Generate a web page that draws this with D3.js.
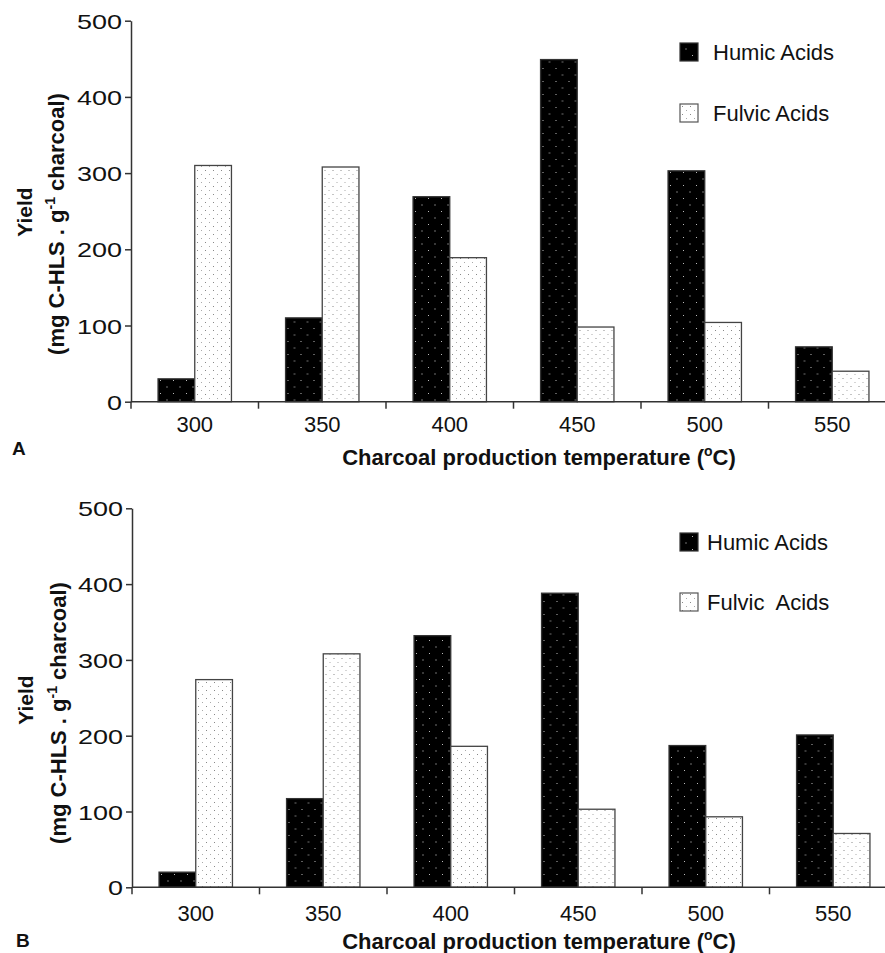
<!DOCTYPE html>
<html><head><meta charset="utf-8">
<script src="https://cdn.jsdelivr.net/npm/d3@7"></script>
<style>body{margin:0;background:#fff}svg{display:block;font-family:"Liberation Sans",Arial,sans-serif}</style>
</head><body>
<svg id="c" width="885" height="953"></svg>
<script>
const categories = ["300","350","400","450","500","550"];
const seriesNames = ["Humic Acids","Fulvic Acids"];
const seriesNamesB = ["Humic Acids","Fulvic  Acids"];
const humicA = [30,110,269,449,303,72];
const fulvicA = [310,308,189,98,104,40];
const humicB = [20,117,332,388,187,201];
const fulvicB = [274,308,186,103,93,71];
const yTicks = [0,100,200,300,400,500];

const svg = d3.select("#c");
const defs = svg.append("defs");
const ph = defs.append("pattern").attr("id","phum").attr("patternUnits","userSpaceOnUse").attr("width",13).attr("height",13);
ph.append("rect").attr("width",13).attr("height",13).attr("fill","#000");
ph.append("rect").attr("x",3).attr("y",3).attr("width",1).attr("height",1).attr("fill","#bbb");
ph.append("rect").attr("x",9.5).attr("y",9.5).attr("width",1).attr("height",1).attr("fill","#ddd");
const pf = defs.append("pattern").attr("id","pful").attr("patternUnits","userSpaceOnUse").attr("width",8).attr("height",8);
pf.append("rect").attr("width",8).attr("height",8).attr("fill","#fff");
pf.append("rect").attr("x",2).attr("y",2).attr("width",1).attr("height",1).attr("fill","#888");
pf.append("rect").attr("x",6).attr("y",6).attr("width",1).attr("height",1).attr("fill","#aaa");

function panel(cfg){
  const g = svg.append("g");
  const x0 = d3.scaleBand().domain(categories).range([cfg.left, cfg.left + 127.5*6]).padding(0);
  const x1 = d3.scaleBand().domain(["h","f"]).range([0, x0.bandwidth()]).paddingInner(0).paddingOuter(0.737);
  const y = d3.scaleLinear().domain([0,500]).range([cfg.bottom, cfg.top]);

  const fills = {h:"url(#phum)", f:"url(#pful)"};
  const strokes = {h:"#333", f:"#444"};
  const rows = categories.map((c,i)=>({c, h:cfg.humic[i], f:cfg.fulvic[i]}));
  const cg = g.selectAll("g.cat").data(rows).join("g").attr("transform",d=>`translate(${x0(d.c)},0)`);
  cg.selectAll("rect").data(d=>["h","f"].map(k=>({k,v:d[k]}))).join("rect")
    .attr("x",d=>x1(d.k)).attr("width",x1.bandwidth())
    .attr("y",d=>y(d.v)).attr("height",d=>y(0)-y(d.v))
    .attr("fill",d=>fills[d.k]).attr("stroke",d=>strokes[d.k]).attr("stroke-width",1.3);

  const ya = g.append("g").attr("transform",`translate(${cfg.left},0)`)
    .call(d3.axisLeft(y).tickValues(yTicks).tickSize(6).tickSizeOuter(0).tickPadding(3));
  ya.select(".domain").attr("stroke","#333").attr("stroke-width",1.5);
  ya.selectAll(".tick line").attr("stroke","#333").attr("stroke-width",1.5);
  ya.selectAll(".tick text").attr("font-size",21).attr("fill","#111").attr("font-family","'Liberation Sans',Arial,sans-serif")
    .attr("textLength",d=>15*String(d).length).attr("lengthAdjust","spacingAndGlyphs").attr("dy","0.36em");

  const xa = g.append("g").attr("transform",`translate(0,${cfg.bottom})`);
  xa.append("line").attr("x1",cfg.left).attr("x2",885).attr("y1",0).attr("y2",0).attr("stroke","#333").attr("stroke-width",1.5);
  xa.selectAll("line.t").data(categories).join("line").attr("class","t")
    .attr("x1",d=>x0(d)).attr("x2",d=>x0(d)).attr("y1",0).attr("y2",7).attr("stroke","#333").attr("stroke-width",1.5);
  xa.selectAll("text.t").data(categories).join("text").attr("class","t")
    .attr("x",d=>x0(d)+x0.bandwidth()/2).attr("y",cfg.tickLabY-cfg.bottom)
    .attr("text-anchor","middle").attr("font-size",22).attr("fill","#111").text(d=>d);

  const xt = g.append("text").attr("x",539).attr("y",cfg.xTitleY).attr("text-anchor","middle")
    .attr("font-size",22).attr("font-weight","bold").attr("fill","#111");
  xt.append("tspan").text("Charcoal production temperature (");
  xt.append("tspan").attr("font-size",14).attr("dy",-9).text("o");
  xt.append("tspan").attr("dy",9).text("C)");

  g.append("text").attr("transform",`translate(${cfg.yl1x},${cfg.yl1y}) rotate(-90)`).attr("text-anchor","middle")
    .attr("font-size",21).attr("font-weight","bold").attr("fill","#111").text("Yield");
  const yt = g.append("text").attr("transform",`translate(${cfg.yl2x},${cfg.yl2y}) rotate(-90)`).attr("text-anchor","middle")
    .attr("font-size",22).attr("font-weight","bold").attr("fill","#111");
  yt.append("tspan").text("(mg C-HLS . g");
  yt.append("tspan").attr("font-size",14).attr("dy",-9).text("-1");
  yt.append("tspan").attr("dy",9).text(" charcoal)");

  g.append("text").attr("x",cfg.labX).attr("y",cfg.labY).attr("font-size",19).attr("font-weight","bold").attr("fill","#111").text(cfg.label);

  const lg = g.append("g");
  cfg.legY.forEach((ly,i)=>{
    lg.append("rect").attr("x",680).attr("y",ly).attr("width",18).attr("height",18)
      .attr("fill",i===0?"url(#phum)":"url(#pful)").attr("stroke",i===0?"#333":"#555").attr("stroke-width",1.2);
    lg.append("text").attr("x",cfg.legTextX).attr("y",ly+17).attr("font-size",22).attr("fill","#111")
      .attr("xml:space","preserve").style("white-space","pre").text(cfg.names[i]);
  });
}

panel({left:131,top:20.7,bottom:401.7,humic:humicA,fulvic:fulvicA,tickLabY:432,xTitleY:465,
  yl1x:32,yl1y:212,yl2x:64,yl2y:224,label:"A",labX:12,labY:455,legY:[43,104],legTextX:713,names:seriesNames});
panel({left:132,top:508.3,bottom:887.3,humic:humicB,fulvic:fulvicB,tickLabY:921,xTitleY:949,
  yl1x:33,yl1y:700,yl2x:66,yl2y:713,label:"B",labX:16,labY:947,legY:[533,593],legTextX:707,names:seriesNamesB});
</script>
</body></html>
